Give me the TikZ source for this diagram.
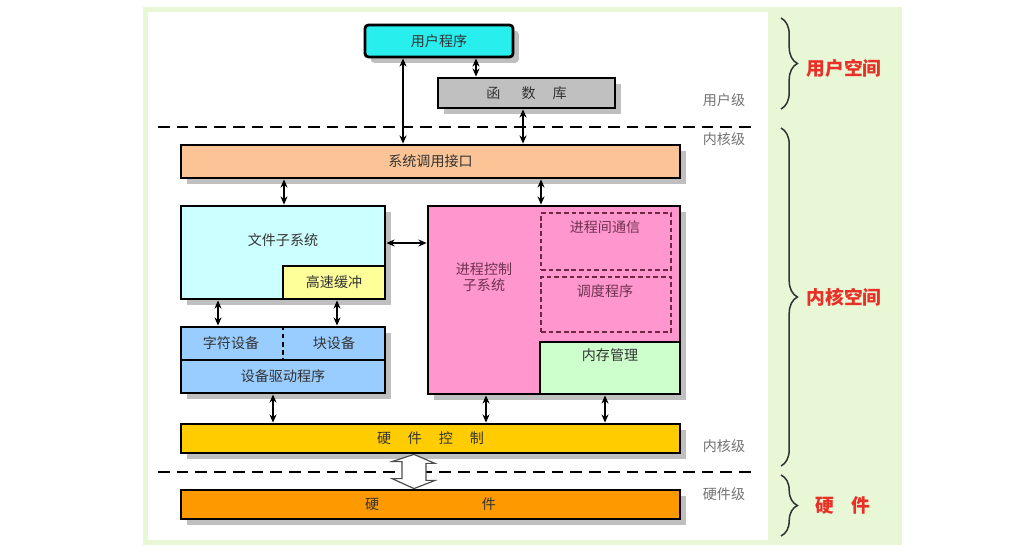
\documentclass[tikz,border=0pt]{standalone}
\usepackage{fontspec}
\setmainfont{Noto Sans CJK SC}
\usetikzlibrary{shadows,arrows.meta,decorations.pathreplacing,calc}
\newdimen\upx \upx=0.03cm
\definecolor{bggreen}{RGB}{232,248,214}
\definecolor{ucyan}{RGB}{40,238,238}
\definecolor{libgray}{RGB}{192,192,192}
\definecolor{peach}{RGB}{250,196,150}
\definecolor{lcyan}{RGB}{204,255,255}
\definecolor{lyellow}{RGB}{255,255,153}
\definecolor{lblue}{RGB}{153,204,255}
\definecolor{pinkc}{RGB}{255,150,205}
\definecolor{lgreen}{RGB}{204,255,204}
\definecolor{goldc}{RGB}{255,204,0}
\definecolor{orangec}{RGB}{255,153,0}
\definecolor{spred}{RGB}{232,48,40}
\definecolor{dashc}{RGB}{110,40,70}
\definecolor{pctext}{RGB}{110,50,80}
\tikzset{
 box/.style={draw=black, line width=2.4pt, inner sep=0pt, font=\fontsize{12}{14}\selectfont, text=black!80},
 shd/.style={drop shadow={shadow xshift=5pt, shadow yshift=-5pt, fill=gray!50, opacity=1}},
 dbl/.style={{Stealth[length=7pt,width=6pt]}-{Stealth[length=7pt,width=6pt]}, line width=1.5pt},
 sepline/.style={line width=2pt, dash pattern=on 10pt off 6pt},
 lvl/.style={text=black!55, font=\fontsize{12}{14}\selectfont},
 spacelab/.style={text=spred, font=\fontsize{16}{18}\selectfont\bfseries},
 brc/.style={decorate, decoration={brace, amplitude=14pt}, line width=1.3pt, draw=black!80},
 dbox/.style={draw=dashc, line width=1.4pt, dash pattern=on 4pt off 2.5pt, inner sep=0pt},
 lbl/.style={font=\fontsize{12}{14}\selectfont, text=black!80, inner sep=0pt},
}
\begin{document}
\begin{tikzpicture}[x=0.03cm, y=-0.03cm]
\useasboundingbox (0,0) rectangle (1031,560);
\fill[white] (0,0) rectangle (1031,560);
\fill[bggreen] (143,7) rectangle (902,545);
\fill[white] (148,12) rectangle (768,540);

% separators
\draw[sepline] (158,127) -- (755,127);
\draw[sepline] (158,472) -- (755,472);

% boxes
\node[box, shd, fill=ucyan, rounded corners=3pt, minimum width=148\upx, minimum height=32\upx] (up) at (439,41) {用户程序};
\node[box, shd, fill=libgray, minimum width=177\upx, minimum height=30\upx] (lib) at (526.5,93) {函\hspace{1.5em}数\hspace{1.2em}库};
\node[box, shd, fill=peach, minimum width=499\upx, minimum height=33\upx] (sci) at (430.5,161.5) {系统调用接口};

\node[box, shd, fill=lcyan, minimum width=204\upx, minimum height=93\upx] (fs) at (283,252.5) {};
\node[lbl] (fsT) at (283,240) {文件子系统};
\node[box, fill=lyellow, minimum width=102\upx, minimum height=33\upx] (cache) at (334,282.5) {高速缓冲};

\node[box, shd, fill=lblue, minimum width=204\upx, minimum height=33\upx] (dev) at (283,343.5) {};
\node[box, shd, fill=lblue, minimum width=204\upx, minimum height=33\upx] (drv) at (283,376.5) {设备驱动程序};
\node[lbl] (chr) at (231,343) {字符设备};
\node[lbl] (blk) at (334,343) {块设备};
\draw[line width=1.5pt, dash pattern=on 4pt off 3pt] (dev.north) -- (dev.south);

\node[box, shd, fill=pinkc, minimum width=252\upx, minimum height=188\upx] (pc) at (554,300) {};
\node[lbl, text=pctext, align=center] (pcT) at (484,277) {进程控制\\子系统};
\node[dbox, minimum width=130\upx, minimum height=57\upx] (ipc) at (606,241.5) {};
\node[lbl, text=pctext] (ipcT) at (605,227) {进程间通信};
\node[dbox, minimum width=130\upx, minimum height=55\upx] (sch) at (606,304.5) {};
\node[lbl, text=pctext] (schT) at (605,291) {调度程序};
\node[box, fill=lgreen, minimum width=140\upx, minimum height=52\upx] (mem) at (610,368) {};
\node[lbl] (memT) at (610,355) {内存管理};

\node[box, shd, fill=goldc, minimum width=499\upx, minimum height=29\upx] (hc) at (430.5,438.5) {硬\hspace{1.2em}件\hspace{1.2em}控\hspace{1.2em}制};
\node[box, shd, fill=orangec, minimum width=499\upx, minimum height=29\upx] (hw) at (430.5,504.5) {硬\hspace{7.3em}件};

% arrow x positions
\coordinate (a1) at (403,0);
\coordinate (a2) at (476,0);
\coordinate (a3) at (523,0);
\coordinate (a4) at (284,0);
\coordinate (a5) at (541,0);
\coordinate (a6) at (0,243);
\coordinate (a7) at (218,0);
\coordinate (a8) at (337,0);
\coordinate (a9) at (273,0);
\coordinate (a10) at (486,0);
\coordinate (a11) at (605,0);

\draw[dbl] (up.south -| a1) -- (sci.north -| a1);
\draw[dbl] (up.south -| a2) -- (lib.north -| a2);
\draw[dbl] (lib.south -| a3) -- (sci.north -| a3);
\draw[dbl] (sci.south -| a4) -- (fs.north -| a4);
\draw[dbl] (sci.south -| a5) -- (pc.north -| a5);
\draw[dbl] (fs.east |- a6) -- (pc.west |- a6);
\draw[dbl] (fs.south -| a7) -- (dev.north -| a7);
\draw[dbl] (cache.south -| a8) -- (dev.north -| a8);
\draw[dbl] (drv.south -| a9) -- (hc.north -| a9);
\draw[dbl] (pc.south -| a10) -- (hc.north -| a10);
\draw[dbl] (mem.south -| a11) -- (hc.north -| a11);

% hollow double arrow
\coordinate (ht) at (hc.south -| 414,0);
\coordinate (hb) at (hw.north -| 414,0);
\draw[fill=white, draw=black!70, line width=1pt]
  (ht) -- ++(21,9) -- ++(-9,0) -- ++(0,17) -- ++(9,0) -- (hb)
  -- ++(-22,-10) -- ++(10,0) -- ++(0,-17) -- ++(-10,0) -- cycle;

% level labels
\node[lvl] (l1) at (724,100) {用户级};
\node[lvl] (l2) at (724,139) {内核级};
\node[lvl] (l3) at (724,446) {内核级};
\node[lvl] (l4) at (724,494) {硬件级};

% braces
\coordinate (b1t) at (781,18);
\coordinate (b1b) at (781,109);
\coordinate (b2t) at (781,128);
\coordinate (b2b) at (781,466);
\coordinate (b3t) at (781,475);
\coordinate (b3b) at (781,536);
\draw[brc] (b1t) -- (b1b);
\draw[brc] (b2t) -- (b2b);
\draw[brc] (b3t) -- (b3b);
\node[spacelab] (s1) at (844,68) {用户空间};
\node[spacelab] (s2) at (844,297) {内核空间};
\node[spacelab] (s3) at (843,505) {硬\hspace{0.9em}件};
\end{tikzpicture}
\end{document}
